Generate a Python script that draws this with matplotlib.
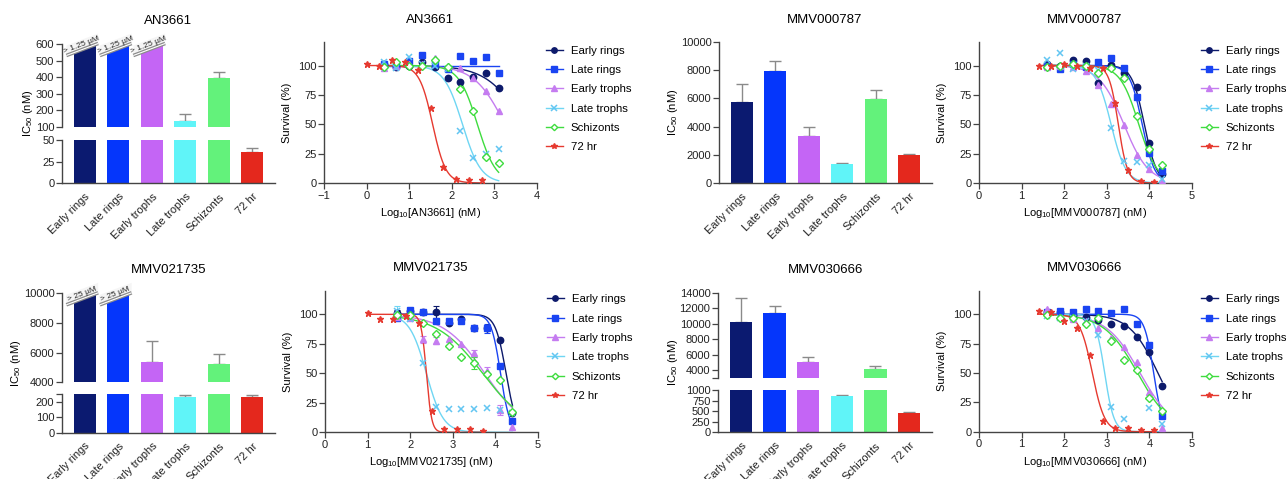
import numpy as np
import matplotlib
matplotlib.use('Agg')
import matplotlib.pyplot as plt
import matplotlib.transforms as mtransforms
from matplotlib.lines import Line2D
from matplotlib.patches import Polygon

plt.rcParams['font.family'] = ['Liberation Sans', 'DejaVu Sans']
plt.rcParams['mathtext.fontset'] = 'custom'
plt.rcParams['mathtext.rm'] = 'Liberation Sans'
plt.rcParams['mathtext.it'] = 'Liberation Sans:italic'
plt.rcParams['font.size'] = 8

W, H = 1286, 479

stages = ['Early rings', 'Late rings', 'Early trophs', 'Late trophs', 'Schizonts', '72 hr']

# ---- IC50 bars (nM) ----
an_ic50 = [1250, 1250, 1250, 138, 397, 36]
an_err = [0, 0, 0, 38, 36, 4.5]
an_over = ['> 1.25 µM', '> 1.25 µM', '> 1.25 µM', '', '', '']

m787_ic50 = [5760, 7940, 3320, 1375, 5950, 1965]
m787_err = [1230, 710, 660, 45, 640, 120]

m21_ic50 = [25000, 25000, 5390, 233, 5260, 232]
m21_err = [0, 0, 1415, 13, 630, 14]
m21_over = ['> 25 µM', '> 25 µM', '', '', '', '']

m30_ic50 = [10200, 11370, 5080, 850, 4130, 456]
m30_err = [3100, 910, 560, 40, 345, 16]

# ---- survival curves (%), log10 concentration (nM) ----
an_x = [0.4, 0.7, 1.0, 1.3, 1.6, 1.9, 2.2, 2.5, 2.8, 3.1]
an_x72 = [0.0, 0.3, 0.6, 0.9, 1.2, 1.5, 1.8, 2.1, 2.4, 2.7]
an_surv = [
    [101, 99, 99.5, 103, 99, 89.5, 86, 90.5, 94, 81],
    [101.7, 99.4, 104, 109, 101, 97, 108, 104, 107, 94],
    [98, 100, 101, 101, 106, 100, 97.5, 89, 78, 61],
    [103.4, 98, 107, 101, 100, 97, 44.5, 21, 24.6, 28.6],
    [99, 103, 100, 100, 105, 99, 80, 61, 22, 16.7],
    [101.7, 99.4, 104.5, 103.4, 96, 64, 14, 3, 2.3, 2.3],
]
an_logic = [3.7, 9.0, 3.25, 2.25, 2.6, 1.55]
an_hill = [1.0, 1.0, 1.2, 2.0, 2.0, 2.8]

m787_x = [1.6, 1.9, 2.2, 2.5, 2.8, 3.1, 3.4, 3.7, 4.0, 4.3]
m787_x72 = [1.4, 1.7, 2.0, 2.3, 2.6, 2.9, 3.2, 3.5, 3.8, 4.1]
m787_surv = [
    [101, 100, 105, 104, 85, 100.3, 94, 81.6, 33.7, 7.6],
    [99.7, 97, 101, 99, 102.8, 106, 97.5, 73, 25.8, 10],
    [98.6, 100, 99, 95, 83, 67, 49, 24, 11.6, 1.7],
    [105, 111, 97, 100, 96, 47, 19, 17.6, 15, 3],
    [99, 100, 101, 100, 94, 97.5, 89, 57, 29, 15.6],
    [100, 100, 101, 100, 98, 97.5, 68, 11, 1.4, 1],
]
m787_logic = [3.88, 3.83, 3.4, 3.1, 3.75, 3.27]
m787_hill = [3.0, 3.0, 1.5, 2.5, 2.0, 4.0]

m21_x = [1.7, 2.0, 2.3, 2.6, 2.9, 3.2, 3.5, 3.8, 4.1, 4.4]
m21_x72 = [1.0, 1.3, 1.6, 1.9, 2.2, 2.5, 2.8, 3.1, 3.4, 3.7]
m21_surv = [
    [101, 103, 102, 102, 92.7, 96, 88.7, 88.5, 78, 16],
    [97, 103.4, 101.7, 94, 94.6, 94, 88.7, 88, 56.6, 9.6],
    [98, 96.6, 79, 77.5, 79, 75, 67, 52, 19, 4.5],
    [103, 96, 59, 21.7, 20, 20, 19.4, 20.6, 19, 16],
    [99, 99, 93, 83, 73, 64, 59, 49, 44, 17.5],
    [101, 96, 96, 98.6, 92.4, 18, 3, 3, 2.5, 0.8],
]
m21_sem = [
    [3, 0, 0, 5, 0, 0, 0, 0, 0, 0],
    [0, 0, 0, 0, 0, 0, 0, 4, 0, 0],
    [0, 0, 3, 3, 0, 0, 3, 3, 4, 0],
    [4, 0, 0, 0, 0, 0, 0, 0, 0, 0],
    [0, 0, 0, 0, 0, 0, 5, 0, 0, 0],
    [0, 0, 0, 0, 0, 0, 0, 0, 0, 0],
]
m21_logic = [4.25, 4.12, 3.75, 2.38, 3.7, 2.38]
m21_hill = [3.5, 4.0, 0.9, 2.2, 0.8, 7.0]

m30_x = [1.6, 1.9, 2.2, 2.5, 2.8, 3.1, 3.4, 3.7, 4.0, 4.3]
m30_x72 = [1.4, 1.7, 2.0, 2.3, 2.6, 2.9, 3.2, 3.5, 3.8, 4.1]
m30_surv = [
    [101.7, 102, 99.7, 97.5, 95, 92, 90, 81, 67.7, 39],
    [102, 103, 101.7, 104.8, 102.5, 100.8, 104.5, 92, 74, 13.3],
    [104.5, 98, 96, 94, 88, 80, 72, 59, 34, 3],
    [98.3, 97, 97, 94, 82.4, 20.7, 10.5, np.nan, 20.4, 6.2],
    [99, 97, 97, 92, 97, 77, 60.6, 52.4, 28.3, 17.6],
    [102.5, 102, 94, 88, 65, 8.8, 2.8, 2.8, 1.7, 1.4],
]
m30_logic = [4.2, 4.1, 3.78, 2.95, 3.72, 2.66]
m30_hill = [1.3, 4.0, 1.1, 4.0, 1.1, 3.0]

bar_colors = ['#0b1a70', '#0536fb', '#c465f5', '#60f4f8', '#63f27b', '#e4281d']
line_colors = ['#0d1a6b', '#1a44f2', '#c57cf0', '#6fd6f3', '#3fdc3f', '#e63a30']
marker_styles = [
    dict(marker='o', markersize=4.6, markerfacecolor='#0d1a6b', markeredgecolor='#0d1a6b'),
    dict(marker='s', markersize=4.4, markerfacecolor='#1a44f2', markeredgecolor='#1a44f2'),
    dict(marker='^', markersize=4.6, markerfacecolor='#c57cf0', markeredgecolor='#c57cf0'),
    dict(marker='x', markersize=4.6, markeredgecolor='#62c6f2', markeredgewidth=1.1),
    dict(marker='D', markersize=3.8, markerfacecolor='white', markeredgecolor='#3fdc3f', markeredgewidth=1.0),
    dict(marker='*', markersize=4.6, markerfacecolor='#e63a30', markeredgecolor='#e63a30'),
]
AX_COL = '#444444'

fig = plt.figure(figsize=(W / 100, H / 100), dpi=100)


def px_axes(left, right, top, bottom):
    return fig.add_axes([left / W, 1 - bottom / H, (right - left) / W, (bottom - top) / H])


def style(ax, show_bottom=True):
    ax.spines['top'].set_visible(False)
    ax.spines['right'].set_visible(False)
    for s in ['left', 'bottom']:
        ax.spines[s].set_color(AX_COL)
        ax.spines[s].set_linewidth(1.0)
    if not show_bottom:
        ax.spines['bottom'].set_visible(False)
        ax.tick_params(axis='x', bottom=False, labelbottom=False)
    ax.tick_params(axis='both', direction='out', length=4, width=0.9, color=AX_COL,
                   labelsize=8, labelcolor='#222222', pad=1.5)


def cut_label(ax, xc, text):
    pos = ax.get_position()
    h_px = pos.height * H
    xl = ax.get_xlim()
    u_px = pos.width * W / (xl[1] - xl[0])
    tr = mtransforms.blended_transform_factory(ax.transData, ax.transAxes)
    x0, x1 = xc - 0.55, xc + 0.4
    y0, y1 = 1 - 11.5 / h_px, 1 + 0.5 / h_px
    k = (y1 - y0) / (x1 - x0)
    bl, br = xc - 0.34, xc + 0.34
    yl, yr = y0 + k * (bl - x0), y0 + k * (br - x0)
    ax.add_patch(Polygon([(bl, yl), (br, yr), (br, 1.06), (bl, 1.06)], closed=True, transform=tr,
                         facecolor='white', edgecolor='none', clip_on=False, zorder=3))
    dy = 10 / h_px
    ax.add_patch(Polygon([(x0, y0), (x1, y1), (x1, y1 + dy), (x0, y0 + dy)], closed=True, transform=tr,
                         facecolor='#f5f5f5', edgecolor='none', clip_on=False, zorder=3))
    ax.plot([x0, x1], [y0, y1], transform=tr, color='#8c8c8c', lw=2.6, solid_capstyle='butt',
            clip_on=False, zorder=4)
    ax.plot([x0, x1], [y0, y1], transform=tr, color='white', lw=0.8, solid_capstyle='butt',
            clip_on=False, zorder=5)
    ang = np.degrees(np.arctan2((y1 - y0) * h_px, (x1 - x0) * u_px))
    xm = xc - 0.05
    ax.text(xm, y0 + k * (xm - x0) + 1.2 / h_px, text, transform=tr, rotation=ang,
            rotation_mode='anchor', ha='center', va='bottom', fontsize=6, color='#222222',
            zorder=6, clip_on=False)


def bar_panel(left, right, segs, values, errs, over, title, title_xy, ylab_x):
    xs = np.arange(len(stages))
    axes = []
    for i, (top, bottom, ylim, ticks, labels) in enumerate(segs):
        ax = px_axes(left, right, top, bottom)
        last = i == len(segs) - 1
        ax.bar(xs, values, width=0.67, color=bar_colors, zorder=2)
        ax.errorbar(xs, values, yerr=[np.zeros(len(errs)), errs], fmt='none', ecolor='#8a8a8a',
                    elinewidth=1.0, capsize=4, capthick=1.0, zorder=1)
        ax.set_xlim(-0.68, 5.68)
        ax.set_ylim(*ylim)
        ax.set_yticks(ticks)
        ax.set_yticklabels(labels)
        style(ax, show_bottom=last)
        if last:
            ax.set_xticks(xs)
            ax.set_xticklabels(stages, rotation=45, ha='right', rotation_mode='anchor')
            ax.tick_params(axis='x', length=0, pad=6)
        axes.append(ax)
    if over is not None:
        for i, t in enumerate(over):
            if t:
                cut_label(axes[0], i, t)
    top_px = segs[0][0]
    bot_px = segs[-1][1]
    fig.text(ylab_x / W, 1 - (top_px + bot_px) / 2 / H, r'IC$_{50}$ (nM)', rotation=90,
             ha='center', va='center', fontsize=8)
    fig.text(title_xy[0] / W, 1 - title_xy[1] / H, title, ha='center', va='center', fontsize=9.5)


def curve_panel(box, xlim, xticks, x_main, x_72, surv, logic, hill, sem, title, title_xy, drug):
    left, right, top, bottom = box
    ax = px_axes(left, right, top, bottom)
    handles = []
    for i in range(len(stages)):
        xs = np.array(x_72 if i == 5 else x_main, dtype=float)
        ys = np.array(surv[i], dtype=float)
        xx = np.linspace(xs.min(), xs.max(), 300)
        ax.plot(xx, 100 / (1 + 10 ** ((xx - logic[i]) * hill[i])), color=line_colors[i], lw=1.0, zorder=2)
        if sem is not None:
            e = np.array(sem[i], dtype=float)
            m = e > 0
            ax.errorbar(xs[m], ys[m], yerr=e[m], fmt='none', ecolor=line_colors[i], elinewidth=0.8,
                        capsize=2, capthick=0.8, zorder=2)
        ax.plot(xs, ys, linestyle='none', zorder=3, **marker_styles[i])
        handles.append(Line2D([0], [0], color=line_colors[i], lw=1.0, **marker_styles[i]))
    ax.set_xlim(*xlim)
    ax.set_xticks(xticks)
    ax.set_ylim(0, 120)
    ax.set_yticks([0, 25, 50, 75, 100])
    style(ax)
    ax.set_ylabel('Survival (%)', fontsize=8, labelpad=4)
    ax.set_xlabel(r'Log$_{10}$[' + drug + '] (nM)', fontsize=8, labelpad=4)
    ax.legend(handles, stages, loc='upper left', bbox_to_anchor=(1.04, 0.975), frameon=False,
              fontsize=8.2, handlelength=1.5, handletextpad=0.7, labelspacing=0.82,
              borderpad=0, borderaxespad=0, markerscale=0.85)
    fig.text(title_xy[0] / W, 1 - title_xy[1] / H, title, ha='center', va='center', fontsize=9.5)


# top row
bar_panel(62, 275,
          [(44, 127, (100, 600), [100, 200, 300, 400, 500, 600], ['100', '200', '300', '400', '500', '600']),
           (140, 183.3, (0, 50), [0, 25, 50], ['0', '25', '50'])],
          an_ic50, an_err, an_over, 'AN3661', (168, 21), 28)
curve_panel((324, 537, 42, 183), (-1, 4), [-1, 0, 1, 2, 3, 4], an_x, an_x72, an_surv,
            an_logic, an_hill, None, 'AN3661', (430, 20), 'AN3661')
bar_panel(719, 932,
          [(42, 183, (0, 10000), [0, 2000, 4000, 6000, 8000, 10000],
            ['0', '2000', '4000', '6000', '8000', '10000'])],
          m787_ic50, m787_err, None, 'MMV000787', (825, 20), 673)
curve_panel((979, 1192, 42, 183), (0, 5), [0, 1, 2, 3, 4, 5], m787_x, m787_x72, m787_surv,
            m787_logic, m787_hill, None, 'MMV000787', (1085, 20), 'MMV000787')

# bottom row
bar_panel(62, 275,
          [(293.3, 382.3, (4000, 10000), [4000, 6000, 8000, 10000], ['4000', '6000', '8000', '10000']),
           (394.3, 432.7, (0, 250), [0, 100, 200, 250], ['0', '100', '200', ''])],
          m21_ic50, m21_err, m21_over, 'MMV021735', (169, 270), 16)
curve_panel((325, 538, 290.7, 432.3), (0, 5), [0, 1, 2, 3, 4, 5], m21_x, m21_x72, m21_surv,
            m21_logic, m21_hill, m21_sem, 'MMV021735', (431, 268), 'MMV021735')
bar_panel(718, 932,
          [(292.7, 377.7, (3000, 14000), [3000, 4000, 6000, 8000, 10000, 12000, 14000],
            ['', '4000', '6000', '8000', '10000', '12000', '14000']),
           (390, 432.3, (0, 1000), [0, 250, 500, 750, 1000], ['0', '250', '500', '750', '1000'])],
          m30_ic50, m30_err, None, 'MMV030666', (826, 270), 673)
curve_panel((979, 1192, 290.7, 431.7), (0, 5), [0, 1, 2, 3, 4, 5], m30_x, m30_x72, m30_surv,
            m30_logic, m30_hill, None, 'MMV030666', (1085, 268), 'MMV030666')

fig.savefig('out.png', dpi=100)
